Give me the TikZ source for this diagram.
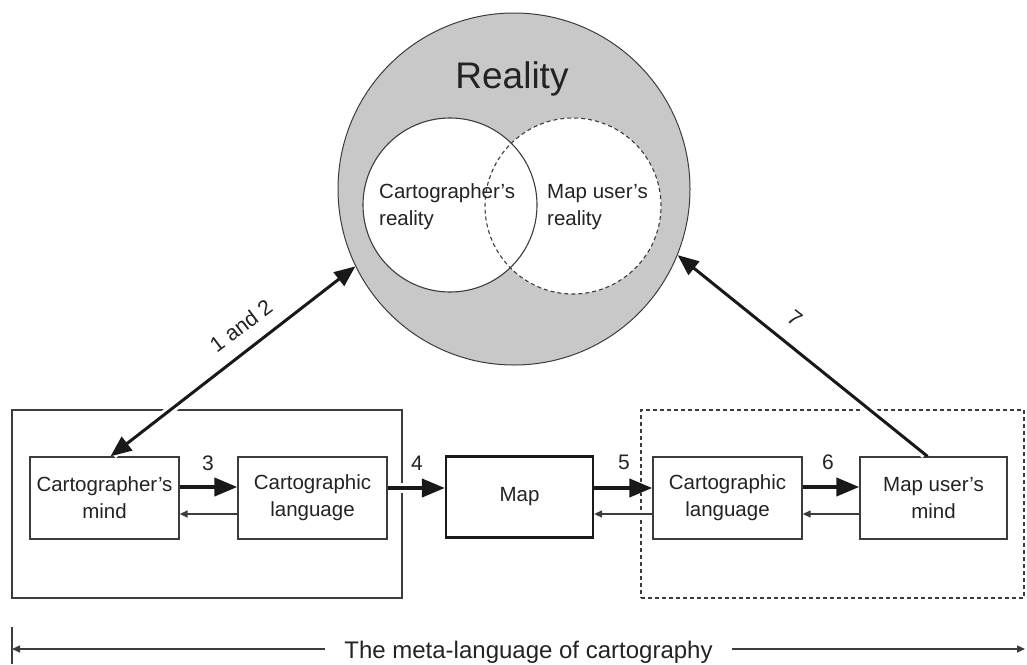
\documentclass[tikz,border=0pt]{standalone}
\usepackage{fontspec}
\setmainfont{Liberation Sans}
\usetikzlibrary{arrows.meta,calc}
\definecolor{ln}{RGB}{60,60,60}
\definecolor{dk}{RGB}{25,25,25}
\definecolor{tx}{RGB}{35,35,35}
\definecolor{gr}{RGB}{200,200,200}
\tikzset{bigtip/.tip={Triangle[length=21pt,width=17pt]}}
\begin{document}
\begin{tikzpicture}[x=1pt,y=-1pt,
  font=\fontsize{20.5}{27}\selectfont, text=tx,
  box/.style={draw=ln, line width=1.3pt, fill=white, minimum width=149pt, minimum height=82pt, align=center, inner sep=0pt},
  halo/.style={preaction={draw=white, line width=#1, -, shorten <=3pt, shorten >=3pt}},
  thickarr/.style={draw=dk, line width=4pt, -{Triangle[length=23pt,width=18pt]}, halo=10pt},
  thinarr/.style={draw=ln, line width=1.4pt, -{Triangle[length=8pt,width=7pt]}, halo=5pt},
  diag/.style={draw=dk, line width=3pt},
  num/.style={font=\fontsize{21}{21}\selectfont, anchor=base},
  slanted/.style={font=\fontsize{21.5}{21.5}\selectfont}]
\useasboundingbox (0,0) rectangle (1027,664);

% Reality circles
\node[circle, draw=ln, fill=gr, line width=1pt, minimum size=352pt, inner sep=0pt] (reality) at (514,189) {};
\node[font=\fontsize{37}{37}\selectfont, anchor=base] (title) at (512,88) {Reality};
\path[fill=white] (450,205) circle[radius=87pt] (573,206) circle[radius=88pt];
\node[circle, draw=ln, line width=1.1pt, minimum size=174pt, inner sep=0pt] (creal) at (450,205) {};
\node[circle, draw=ln, line width=1.1pt, dashed, dash pattern=on 4pt off 3pt, minimum size=176pt, inner sep=0pt] (ureal) at (573,206) {};
\node[anchor=west, align=left, inner sep=0pt] (ctext) at (379,207) {Cartographer’s\\reality};
\node[anchor=west, align=left, inner sep=0pt] (utext) at (547,207) {Map user’s\\reality};

% outer boxes
\node[draw=ln, line width=1.3pt, minimum width=390pt, minimum height=188pt, inner sep=0pt] (cbox) at (207,504) {};
\node[draw=ln, line width=1.3pt, dashed, dash pattern=on 4pt off 3pt, minimum width=383pt, minimum height=188pt, inner sep=0pt] (ubox) at (832.5,504) {};

% inner boxes
\node[box] (cmind) at (104.5,498) {Cartographer’s\\mind};
\node[box] (clang) at (312.5,498) {Cartographic\\language};
\node[box, draw=dk, line width=2.2pt, minimum width=147pt, minimum height=81pt] (map) at (519.5,497) {Map};
\node[box] (clangr) at (727.5,498) {Cartographic\\language};
\node[box, minimum width=147pt] (muser) at (933.5,498) {Map user’s\\mind};

% horizontal arrows
\draw[thickarr] ([yshift=11pt]cmind.east) -- ([yshift=11pt]clang.west);
\draw[thinarr] ([yshift=-16pt]clang.west) -- ([yshift=-16pt]cmind.east);
\draw[thickarr] ([yshift=10pt]clang.east) -- ([yshift=10pt]clang.east -| map.west);
\draw[thickarr] ([yshift=10pt]clang.east -| map.east) -- ([yshift=10pt]clang.east -| clangr.west);
\draw[thinarr] ([yshift=-16pt]clangr.west) -- ([yshift=-16pt]clangr.west -| map.east);
\draw[thickarr] ([yshift=11pt]clangr.east) -- ([yshift=11pt]muser.west);
\draw[thinarr] ([yshift=-16pt]muser.west) -- ([yshift=-16pt]clangr.east);

\node[num] (n3) at (208,470) {3};
\node[num] (n4) at (417,470) {4};
\node[num] (n5) at (624,469) {5};
\node[num] (n6) at (828,469) {6};

% diagonal arrows
\draw[diag, halo=9pt, {bigtip}-{bigtip}] ([xshift=6pt]cmind.north) -- (reality.206);
\node[slanted, rotate=37] (l12) at (241,326) {1 and 2};
\draw[diag, halo=9pt, -{bigtip}] ([xshift=-6pt]muser.north) -- (reality.338);
\node[slanted, rotate=-38] (l7) at (795,318) {7};

% meta-language
\coordinate (tk1) at (12,627);
\coordinate (tk2) at (12,664);
\coordinate (lt) at (12,649);
\coordinate (rt) at (1025,649);
\node[font=\fontsize{24}{24}\selectfont, inner xsep=19pt, inner ysep=0pt] (meta) at (528.5,652) {The meta-language of cartography};
\draw[ln, line width=1.4pt] (tk1) -- (tk2);
\draw[ln, line width=1.4pt, -{Triangle[length=8pt,width=7pt]}] (meta.west |- lt) -- (lt);
\draw[ln, line width=1.4pt, -{Triangle[length=8pt,width=7pt]}] (meta.east |- rt) -- (rt);
\end{tikzpicture}
\end{document}
